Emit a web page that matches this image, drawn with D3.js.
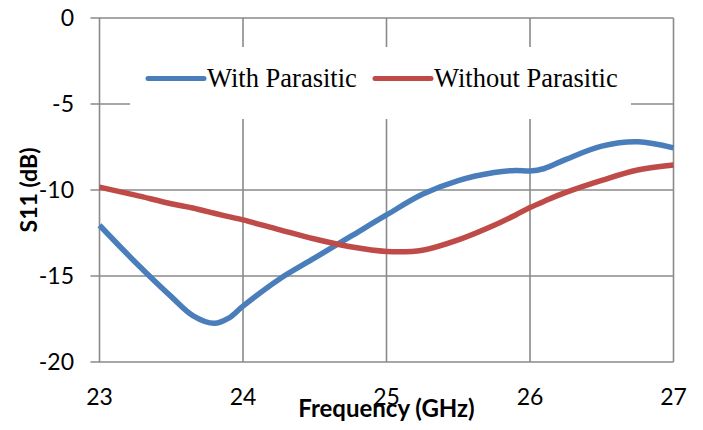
<!DOCTYPE html>
<html>
<head>
<meta charset="utf-8">
<script src="https://cdn.jsdelivr.net/npm/d3@7"></script>
<style>
  body { margin: 0; background: #fff; }
  svg { display: block; }
</style>
</head>
<body>
<div id="chart"></div>
<script>
// frequency points (GHz)
var freq = [23, 23.25, 23.5, 23.65, 23.8, 23.9, 24, 24.25, 24.5, 24.75, 25, 25.25, 25.5, 25.75, 25.9, 26, 26.1, 26.25, 26.5, 26.75, 27];
// S11 with parasitic (dB)
var withPar = [-12.05, -14.2, -16.2, -17.3, -17.75, -17.45, -16.75, -15.2, -13.95, -12.7, -11.45, -10.25, -9.45, -8.98, -8.86, -8.9, -8.75, -8.22, -7.45, -7.2, -7.55];
// S11 without parasitic (dB)
var withoutPar = [-9.83, -10.3, -10.8, -11.05, -11.35, -11.55, -11.74, -12.3, -12.85, -13.3, -13.57, -13.5, -12.9, -12.05, -11.45, -11.02, -10.65, -10.14, -9.44, -8.84, -8.55];

var xTicks = [23, 24, 25, 26, 27];
var yTicks = [0, -5, -10, -15, -20];
var seriesNames = ["With Parasitic", "Without Parasitic"];
var seriesColors = ["#4a7ebb", "#be4b48"];

var width = 703, height = 430;
var margin = {top: 18, right: 29.5, bottom: 68, left: 99.5};

var svg = d3.select("#chart").append("svg")
    .attr("width", width)
    .attr("height", height);

var x = d3.scaleLinear()
    .domain([23, 27])
    .range([margin.left, width - margin.right]);

var y = d3.scaleLinear()
    .domain([-20, 0])
    .range([height - margin.bottom, margin.top]);

var gridColor = "#8a8a8a";

// horizontal grid lines + y ticks
svg.append("g")
    .selectAll("line")
    .data(yTicks)
    .enter()
    .append("line")
    .attr("x1", margin.left - 9)
    .attr("x2", x(27))
    .attr("y1", function(d) { return y(d); })
    .attr("y2", function(d) { return y(d); })
    .attr("stroke", gridColor)
    .attr("stroke-width", 1.6);

// vertical grid lines (incl. left axis)
svg.append("g")
    .selectAll("line")
    .data(xTicks)
    .enter()
    .append("line")
    .attr("x1", function(d) { return x(d); })
    .attr("x2", function(d) { return x(d); })
    .attr("y1", y(0))
    .attr("y2", y(-20))
    .attr("stroke", gridColor)
    .attr("stroke-width", 1.6);

// y tick labels
svg.append("g")
    .selectAll("text")
    .data(yTicks)
    .enter()
    .append("text")
    .attr("x", 74)
    .attr("y", function(d) { return y(d); })
    .attr("dy", "0.36em")
    .attr("text-anchor", "end")
    .style("font-family", "Lato, sans-serif")
    .style("font-size", "23px")
    .style("fill", "#000")
    .text(function(d) { return d; });

// x tick labels
svg.append("g")
    .selectAll("text")
    .data(xTicks)
    .enter()
    .append("text")
    .attr("x", function(d) { return x(d); })
    .attr("y", 405)
    .attr("text-anchor", "middle")
    .style("font-family", "Lato, sans-serif")
    .style("font-size", "23px")
    .style("fill", "#000")
    .text(function(d) { return d; });

// axis titles
svg.append("text")
    .attr("x", (x(23) + x(27)) / 2)
    .attr("y", 417)
    .attr("text-anchor", "middle")
    .style("font-family", "Lato, sans-serif")
    .style("font-weight", "bold")
    .style("font-size", "24px")
    .text("Frequency (GHz)");

svg.append("text")
    .attr("transform", "translate(37," + ((y(0) + y(-20)) / 2) + ") rotate(-90)")
    .attr("text-anchor", "middle")
    .style("font-family", "Lato, sans-serif")
    .style("font-weight", "bold")
    .style("font-size", "23px")
    .text("S11 (dB)");

// series lines
var line = d3.line()
    .x(function(d) { return x(d[0]); })
    .y(function(d) { return y(d[1]); })
    .curve(d3.curveCatmullRom.alpha(0.5));

[withPar, withoutPar].forEach(function(vals, i) {
    var pts = freq.map(function(f, j) { return [f, vals[j]]; });
    svg.append("path")
        .datum(pts)
        .attr("d", line)
        .attr("fill", "none")
        .attr("stroke", seriesColors[i])
        .attr("stroke-width", 5.5)
        .attr("stroke-linejoin", "round");
});

// legend
var legend = svg.append("g");
legend.append("rect")
    .attr("x", 130)
    .attr("y", 47)
    .attr("width", 501)
    .attr("height", 72)
    .attr("fill", "#fff");

var legendX = [148, 375];
seriesNames.forEach(function(name, i) {
    legend.append("line")
        .attr("x1", legendX[i])
        .attr("x2", legendX[i] + 56)
        .attr("y1", 78.5)
        .attr("y2", 78.5)
        .attr("stroke", seriesColors[i])
        .attr("stroke-width", 5)
        .attr("stroke-linecap", "round");
    legend.append("text")
        .attr("x", legendX[i] + 59)
        .attr("y", 87)
        .style("font-family", "'Liberation Serif', 'Times New Roman', serif")
        .style("font-size", "26.5px")
        .style("fill", "#000")
        .text(name);
});
</script>
</body>
</html>
